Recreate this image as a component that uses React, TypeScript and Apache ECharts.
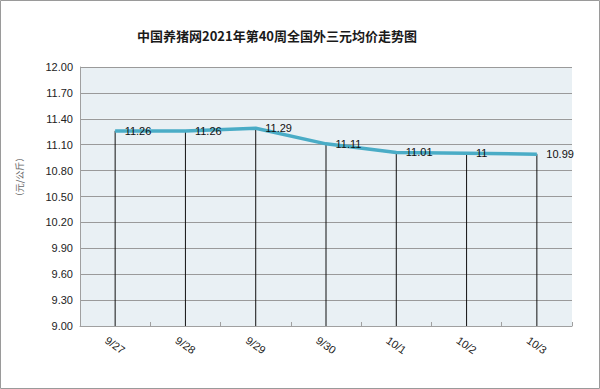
import React, { useEffect, useRef } from "react";
import * as echarts from "echarts";

const categories = ["9/27", "9/28", "9/29", "9/30", "10/1", "10/2", "10/3"];
const prices = [11.26, 11.26, 11.29, 11.11, 11.01, 11, 10.99];
const titleText = "中国养猪网2021年第40周全国外三元均价走势图";
const yName = "（元/公斤）";

export default function App() {
  const ref = useRef<HTMLDivElement>(null);
  useEffect(() => {
    document.body.style.margin = "0";
    const chart = echarts.init(ref.current!, null, { renderer: "svg" });
    const font = "'Liberation Sans', Arial, sans-serif";
    chart.setOption({
      animation: false,
      backgroundColor: "#ffffff",
      title: {
        text: titleText,
        left: 132,
        top: 24,
        textStyle: {
          fontFamily: "'Noto Sans CJK SC', sans-serif",
          fontSize: 13,
          fontWeight: "bold",
          color: "#1a1a1a",
        },
      },
      grid: { left: 80, right: 28, top: 67, bottom: 63 },
      graphic: [
        {
          type: "rect",
          shape: { x: 0.5, y: 0.5, width: 599, height: 388 },
          style: { fill: "none", stroke: "#9a9a9a", lineWidth: 1 },
          silent: true,
        },
        {
          type: "text",
          x: 19,
          y: 177,
          rotation: Math.PI / 2,
          style: {
            text: yName,
            fill: "#666666",
            fontSize: 9,
            fontFamily: "'Noto Sans CJK SC', sans-serif",
            align: "center",
            verticalAlign: "middle",
          },
        },
      ],
      xAxis: {
        type: "category",
        data: categories,
        boundaryGap: true,
        axisLine: { show: true, lineStyle: { color: "#a0a0a0", width: 1 } },
        axisTick: { show: true, inside: true, length: 4, lineStyle: { color: "#a0a0a0" } },
        axisLabel: {
          rotate: -35,
          align: "center",
          verticalAlign: "middle",
          margin: 19,
          fontSize: 11,
          color: "#222",
          fontFamily: font,
        },
        splitLine: { show: false },
      },
      yAxis: {
        type: "value",
        min: 9,
        max: 12,
        interval: 0.3,
        axisLine: { show: true, lineStyle: { color: "#a0a0a0" } },
        axisTick: { show: false },
        axisLabel: {
          formatter: (v: number) => v.toFixed(2),
          fontSize: 11,
          color: "#222",
          margin: 7,
          fontFamily: font,
        },
        splitLine: { show: true, lineStyle: { color: "#9a9a9a", width: 1 } },
        splitArea: { show: true, areaStyle: { color: ["#e9f0f4", "#e9f0f4"] } },
      },
      series: [
        {
          type: "bar",
          data: prices,
          barWidth: 1,
          itemStyle: { color: "#111111" },
          silent: true,
          z: 1,
        },
        {
          type: "line",
          data: prices,
          symbol: "circle",
          symbolSize: 1,
          showSymbol: true,
          itemStyle: { color: "#4aacc6" },
          lineStyle: { color: "#4aacc6", width: 3.5 },
          z: 3,
          label: {
            show: true,
            position: "right",
            distance: 9,
            fontSize: 11,
            color: "#111",
            fontFamily: font,
            formatter: (p: any) => String(p.value),
          },
        },
      ],
    });
    return () => chart.dispose();
  }, []);
  return (
    <div
      ref={ref}
      style={{ position: "absolute", left: 0, top: 0, width: 600, height: 389 }}
    />
  );
}
